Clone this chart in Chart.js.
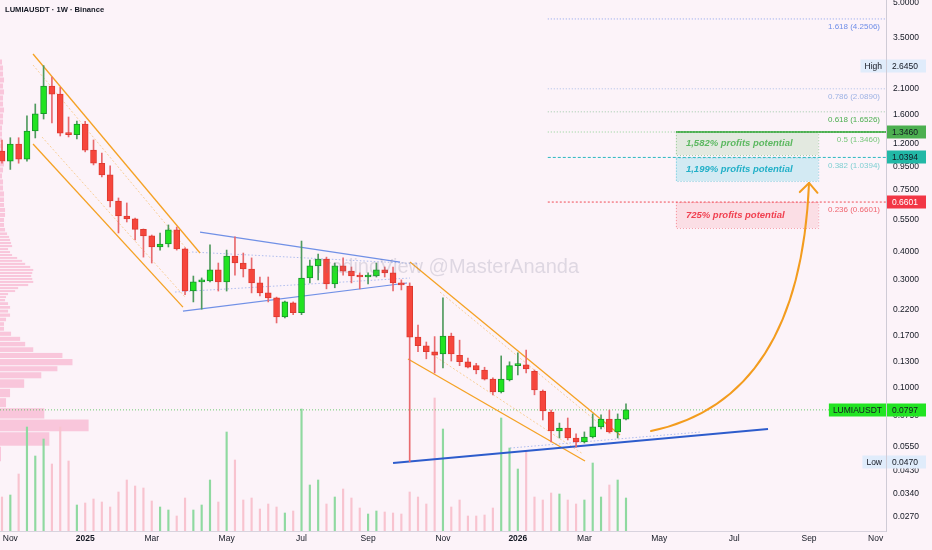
<!DOCTYPE html>
<html>
<head>
<meta charset="utf-8">
<title>LUMIAUSDT 1W</title>
<script src="https://cdn.jsdelivr.net/npm/chart.js@4.4.1/dist/chart.umd.min.js"></script>
<style>
  html, body { margin: 0; padding: 0; background: #fcf3f9; }
  #wrap { width: 932px; height: 550px; }
</style>
</head>
<body>
<div id="wrap"><canvas id="chart" width="932" height="550"></canvas></div>
<script>
// weekly candles, first bar = week of 2024-10-28
const firstWeek = "2024-10-28";
const candleOpen = [1.11,1.00,1.19,1.02,1.36,1.62,2.15,1.98,1.33,1.31, 1.46,1.12,0.98,0.87,0.667,0.573,0.556,0.50,0.468,0.418,
  0.431,0.497,0.41,0.267,0.293,0.296,0.331,0.293,0.381,0.355, 0.334,0.290,0.262,0.249,0.205,0.237,0.214,0.305,0.345,0.370,
  0.287,0.345,0.327,0.311,0.308,0.311,0.331,0.321,0.290,0.281, 0.167,0.153,0.144,0.141,0.169,0.139,0.130,0.125,0.1196,0.109,
  0.0957,0.108,0.125,0.126,0.118,0.0966,0.078,0.0643,0.0663,0.0599, 0.0575,0.0605,0.0670,0.0726,0.0637,0.0726];
const candleHigh = [1.24,1.27,1.27,1.585,1.79,2.645,2.356,2.12,1.568,1.506, 1.50,1.241,1.087,0.953,0.688,0.654,0.561,0.502,0.472,0.482,
  0.523,0.512,0.414,0.311,0.305,0.427,0.355,0.405,0.463,0.393, 0.374,0.308,0.308,0.251,0.241,0.239,0.444,0.366,0.389,0.377,
  0.355,0.374,0.341,0.321,0.321,0.355,0.341,0.341,0.299,0.29, 0.189,0.159,0.168,0.249,0.174,0.162,0.135,0.128,0.123,0.1104,
  0.138,0.130,0.1423,0.1466,0.1196,0.0976,0.0796,0.0697,0.0734,0.0624, 0.0637,0.0765,0.0757,0.0796,0.0765,0.0847];
const candleLow = [0.98,0.92,0.98,1.00,1.267,1.536,1.475,1.293,1.28,1.254, 1.10,0.963,0.853,0.628,0.482,0.539,0.449,0.377,0.355,0.405,
  0.418,0.405,0.257,0.239,0.222,0.293,0.267,0.267,0.314,0.308, 0.262,0.254,0.239,0.193,0.203,0.210,0.210,0.290,0.299,0.273,
  0.276,0.314,0.290,0.273,0.287,0.308,0.308,0.267,0.270,0.047, 0.144,0.134,0.116,0.122,0.131,0.125,0.122,0.115,0.108,0.0929,
  0.0947,0.107,0.1137,0.116,0.0929,0.0719,0.0575,0.0599,0.0587,0.0546, 0.0569,0.0599,0.0657,0.063,0.0599,0.0719];
const candleClose = [1.00,1.19,1.02,1.36,1.62,2.15,1.98,1.33,1.31,1.46, 1.12,0.98,0.87,0.667,0.573,0.556,0.50,0.468,0.418,0.431,
  0.497,0.41,0.267,0.293,0.299,0.331,0.293,0.381,0.355,0.334, 0.290,0.262,0.249,0.205,0.239,0.214,0.305,0.345,0.370,0.287,
  0.345,0.327,0.311,0.308,0.311,0.331,0.321,0.290,0.284,0.167, 0.153,0.144,0.139,0.169,0.141,0.130,0.123,0.1196,0.109,0.0957,
  0.109,0.125,0.126,0.1208,0.0976,0.0788,0.0643,0.0663,0.0599,0.0575, 0.0605,0.0670,0.0726,0.0637,0.0726,0.0797];
// volume in millions
const volume = [3.4,3.6,5.7,10.4,7.5,9.2,6.7,10.4,7.0,2.6, 2.8,3.2,2.9,2.4,3.9,5.1,4.5,4.3,3.0,2.4,
  2.1,1.5,3.3,2.1,2.6,5.1,2.9,9.9,7.1,3.1, 3.3,2.2,2.7,2.4,1.8,2.0,12.2,4.6,5.1,2.7,
  3.4,4.2,3.3,2.3,1.7,2.0,1.9,1.8,1.7,3.9, 3.4,2.7,13.3,10.2,2.4,3.1,1.5,1.5,1.6,2.3,
  11.3,8.3,6.2,8.0,3.4,3.1,3.8,3.7,3.1,2.7, 3.1,6.8,3.4,4.6,5.1,3.3];

// visible range volume profile (price level -> relative volume)
const profilePrice = [2.744,2.581,2.428,2.285,2.150,2.023,1.902,1.789,1.684,1.584,1.491,1.402,1.319,1.241,1.168,1.099,1.034,0.972,
  0.915,0.861,0.810,0.762,0.717,0.674,0.641,0.609,0.579,0.550,0.523,0.497,0.477,0.463,0.449,0.435,0.422,0.409,0.397,0.385,
  0.374,0.363,0.352,0.341,0.331,0.321,0.311,0.302,0.293,0.284,0.275,0.267,0.259,0.251,0.244,0.235,0.226,0.218,0.209,0.200,
  0.191,0.182,0.173,0.164,0.156,0.147,0.139,0.130,0.120,0.115,0.104,0.0947,0.0860,0.0772,0.0683,0.0596,0.0509];
const profileVolume = [2,3,3,4,3,4,3,3,4,3,3,2,2,2,3,3,4,4,3,2,3,3,4,4,4,5,5,4,4,5,7,9,10,11,12,8,10,12,
  17,22,25,30,33,32,31,32,33,28,18,15,8,6,5,8,10,8,10,6,4,4,11,20,25,33,62,72,57,41,24,10,6,44,88,49,1];

// x axis month labels
const monthTickDates = ["2024-11-01","2025-01-01","2025-03-01","2025-05-01","2025-07-01","2025-09-01","2025-11-01",
  "2026-01-01","2026-03-01","2026-05-01","2026-07-01","2026-09-01","2026-11-01"];
const monthNames = ["Jan","Feb","Mar","Apr","May","Jun","Jul","Aug","Sep","Oct","Nov","Dec"];
const priceTicks = [5, 3.5, 2.1, 1.6, 1.2, 0.95, 0.75, 0.55, 0.4, 0.3, 0.22, 0.17, 0.13, 0.1, 0.075, 0.055, 0.043, 0.034, 0.027];

// fibonacci levels and target boxes
const fibLevels = ["1.618", "0.786", "0.618", "0.5", "0.382", "0.236"];
const fibPrices = [4.2506, 2.089, 1.6526, 1.346, 1.0394, 0.6601];
const fibStartWeek = 65.6;
const boxTop = [1.346, 1.0394, 0.6601];
const boxBottom = [1.065, 0.8176, 0.5069];
const boxLabels = ["1,582% profits potential", "1,199% profits potential", "725% profits potential"];
const boxWeeks = [81.0, 98.1];

// price tags on the right axis
const tagPrices = [2.645, 1.346, 1.0394, 0.6601, 0.0797, 0.047];
const tagNames = ["High", "", "", "", "LUMIAUSDT", "Low"];

// drawn trend lines [week, price]
const channelA = [[3.73, 2.977], [23.8, 0.393]];
const channelB = [[3.73, 1.191], [21.75, 0.2268]];
const channelAInner = [[3.73, 2.661], [22.6, 0.393]];
const channelBInner = [[4.81, 1.279], [22.0, 0.2512]];
const triangleTop = [[23.8, 0.4866], [47.84, 0.3586]];
const triangleBottom = [[21.75, 0.2178], [48.68, 0.2897]];
const triangleMid1 = [[22.84, 0.3971], [50.2, 0.352]];
const triangleMid2 = [[20.8, 0.2643], [49.04, 0.3048]];
const supportLine = [[47.0, 0.04642], [92.07, 0.06559]];
const supportInner = [[61.06, 0.05406], [83.9, 0.0636]];
const channelC = [[49.04, 0.3586], [74.28, 0.0617]];
const channelCInner = [[52.64, 0.2643], [73.3, 0.0623]];
const channelD = [[48.8, 0.1337], [70.07, 0.04738]];
const channelDInner = [[51.8, 0.1393], [69.83, 0.0509]];
const arrowCurve = [[78.0, 0.0643], [95.9, 0.0882], [97.0, 0.8018]];

const X_MIN = -0.24, X_MAX = 106.25;
const Y_MIN = 0.02325, Y_MAX = 5.155;
const WEEK = 7 * 864e5;
const startMs = Date.parse(firstWeek + "T00:00:00Z");
const monthTickWeeks = monthTickDates.map((d) => Math.ceil((Date.parse(d + "T00:00:00Z") - startMs) / WEEK));
const monthTickText = monthTickDates.map((d) => {
  const dt = new Date(d + "T00:00:00Z");
  return dt.getUTCMonth() === 0 ? String(dt.getUTCFullYear()) : monthNames[dt.getUTCMonth()];
});

const UP = "#21e321", UP_EDGE = "#17972a", DOWN = "#f6463c", DOWN_EDGE = "#de3a30";
const UP_WICK = "#4f9a5e", DOWN_WICK = "#e86a6e";
const FONT = "'Liberation Sans', Arial, sans-serif";
const INK = "#131722";

const weeks = candleOpen.map((_, i) => i);
const isUp = weeks.map((i) => candleClose[i] >= candleOpen[i]);

function seg(points, color, width, dash) {
  return {
    type: "line",
    data: points.map(([x, y]) => ({ x, y })),
    borderColor: color,
    borderWidth: width,
    borderDash: dash || [],
    pointRadius: 0,
    fill: false,
    tension: 0,
    order: 3,
  };
}

const ORANGE = "#f5a224", ORANGE_SOFT = "rgba(245,162,36,0.45)";
const BLUE = "#7090e6", BLUE_SOFT = "rgba(112,144,230,0.55)";

const lineSets = [
  seg(channelA, ORANGE, 1.3), seg(channelB, ORANGE, 1.3),
  seg(channelAInner, ORANGE_SOFT, 1, [2, 2]), seg(channelBInner, ORANGE_SOFT, 1, [2, 2]),
  seg(triangleTop, BLUE, 1.2), seg(triangleBottom, BLUE, 1.2),
  seg(triangleMid1, BLUE_SOFT, 1, [1.5, 2]), seg(triangleMid2, BLUE_SOFT, 1, [1.5, 2]),
  seg(supportLine, "#2d5ccc", 2), seg(supportInner, BLUE_SOFT, 1, [1.5, 2]),
  seg(channelC, ORANGE, 1.3), seg(channelD, ORANGE, 1.3),
  seg(channelCInner, ORANGE_SOFT, 1, [2, 2]), seg(channelDInner, ORANGE_SOFT, 1, [2, 2]),
  seg([[X_MIN, candleClose[candleClose.length - 1]], [X_MAX, candleClose[candleClose.length - 1]]], "rgba(60,190,70,0.75)", 1, [1, 2]),
];

const fibStyles = [
  { line: "#8aa2ee", text: "#6f8ee8", dash: [1, 2] },
  { line: "#a9bde8", text: "#9db2e4", dash: [1, 2] },
  { line: "#9cc9a8", text: "#4caf50", dash: [1, 2] },
  { line: "#8fd095", text: "#77c77b", dash: [1, 2] },
  { line: "#2cb8c0", text: "#7fcfd2", dash: [3, 2] },
  { line: "#f04a55", text: "#f06570", dash: [2, 2] },
];
fibPrices.forEach((p, i) => lineSets.push(seg([[fibStartWeek, p], [X_MAX, p]], fibStyles[i].line, 1, fibStyles[i].dash)));
lineSets.push(seg([[boxWeeks[0], fibPrices[3]], [X_MAX, fibPrices[3]]], "#4caf50", 2));

const boxStyles = [
  { fill: "rgba(76,175,80,0.14)", edge: "rgba(76,175,80,0.5)", text: "#5cb860" },
  { fill: "rgba(0,188,212,0.16)", edge: "rgba(0,170,200,0.5)", text: "#22b0c8" },
  { fill: "rgba(242,54,69,0.11)", edge: "rgba(242,54,69,0.45)", text: "#f04050" },
];
const tagStyles = [
  { bg: "#e0ecfb", fg: INK }, { bg: "#4caf50", fg: INK }, { bg: "#22b8a6", fg: INK },
  { bg: "#f23645", fg: "#ffffff" }, { bg: "#22e422", fg: INK }, { bg: "#e0ecfb", fg: INK },
];

const decor = {
  id: "decor",
  beforeDraw(chart) {
    const { ctx, width, height } = chart;
    ctx.save();
    ctx.fillStyle = "#fcf3f9";
    ctx.fillRect(0, 0, width, height);
    ctx.restore();
  },
  beforeDatasetsDraw(chart) {
    const { ctx, chartArea, scales } = chart;
    const y = scales.y, x = scales.x;
    ctx.save();
    // volume profile
    const ys = profilePrice.map((p) => y.getPixelForValue(p));
    const maxV = Math.max(...profileVolume);
    const wScale = (chartArea.width * 0.1) / maxV;
    ctx.fillStyle = "rgba(246,168,198,0.6)";
    ys.forEach((yc, i) => {
      const up = i > 0 ? (yc - ys[i - 1]) / 2 : (ys[1] - yc) / 2;
      const dn = i < ys.length - 1 ? (ys[i + 1] - yc) / 2 : up;
      const top = yc - up + 0.5, h = up + dn - 1;
      ctx.fillRect(chartArea.left, top, profileVolume[i] * wScale, Math.max(h, 0.8));
    });
    // target boxes
    const bx0 = x.getPixelForValue(boxWeeks[0]), bx1 = x.getPixelForValue(boxWeeks[1]);
    boxTop.forEach((t, i) => {
      const yt = y.getPixelForValue(t), yb = y.getPixelForValue(boxBottom[i]);
      ctx.fillStyle = boxStyles[i].fill;
      ctx.fillRect(bx0, yt, bx1 - bx0, yb - yt);
      ctx.strokeStyle = boxStyles[i].edge;
      ctx.setLineDash([1, 2]);
      ctx.lineWidth = 1;
      ctx.strokeRect(bx0 + 0.5, yt + 0.5, bx1 - bx0, yb - yt);
    });
    ctx.restore();
  },
  afterDatasetsDraw(chart) {
    const { ctx, chartArea, scales } = chart;
    const y = scales.y, x = scales.x;
    ctx.save();
    // watermark
    ctx.font = "20px " + FONT;
    ctx.fillStyle = "rgba(120,120,145,0.22)";
    ctx.textAlign = "center";
    ctx.textBaseline = "middle";
    ctx.fillText("TradingView @MasterAnanda", 446, 267);
    // curved arrow
    const pts = arrowCurve.map(([i, p]) => [x.getPixelForValue(i), y.getPixelForValue(p)]);
    ctx.strokeStyle = "#f39c1e";
    ctx.lineWidth = 2;
    ctx.lineCap = "round";
    ctx.beginPath();
    ctx.moveTo(pts[0][0], pts[0][1]);
    ctx.quadraticCurveTo(pts[1][0], pts[1][1], pts[2][0], pts[2][1]);
    ctx.stroke();
    const ang = Math.atan2(pts[2][1] - pts[1][1], pts[2][0] - pts[1][0]);
    ctx.beginPath();
    [-1, 1].forEach((s) => {
      const a = ang + Math.PI + s * 0.75;
      ctx.moveTo(pts[2][0], pts[2][1]);
      ctx.lineTo(pts[2][0] + 13 * Math.cos(a), pts[2][1] + 13 * Math.sin(a));
    });
    ctx.stroke();
    // fib labels
    ctx.font = "8px " + FONT;
    ctx.textAlign = "right";
    fibPrices.forEach((p, i) => {
      ctx.fillStyle = fibStyles[i].text;
      ctx.fillText(fibLevels[i] + " (" + p.toFixed(4) + ")", chartArea.right - 6, y.getPixelForValue(p) + 8);
    });
    // box labels
    ctx.font = "italic 600 9.5px " + FONT;
    ctx.textAlign = "left";
    const bx0 = x.getPixelForValue(boxWeeks[0]);
    boxTop.forEach((t, i) => {
      const ym = (y.getPixelForValue(t) + y.getPixelForValue(boxBottom[i])) / 2;
      ctx.fillStyle = boxStyles[i].text;
      ctx.fillText(boxLabels[i], bx0 + 10, ym);
    });
    ctx.restore();
  },
  afterDraw(chart) {
    const { ctx, chartArea, scales } = chart;
    const y = scales.y;
    ctx.save();
    ctx.textBaseline = "middle";
    ctx.font = "8.5px " + FONT;
    tagPrices.forEach((p, i) => {
      const yp = Math.round(y.getPixelForValue(p));
      const st = tagStyles[i];
      ctx.fillStyle = st.bg;
      ctx.fillRect(chartArea.right + 1, yp - 6.5, 39, 13);
      ctx.fillStyle = st.fg;
      ctx.textAlign = "left";
      ctx.fillText(p.toFixed(4), chartArea.right + 6, yp + 0.5);
      if (tagNames[i]) {
        const w = ctx.measureText(tagNames[i]).width + 8;
        ctx.fillStyle = st.bg;
        ctx.fillRect(chartArea.right - w, yp - 6.5, w, 13);
        ctx.fillStyle = st.fg;
        ctx.fillText(tagNames[i], chartArea.right - w + 4, yp + 0.5);
      }
    });
    // title
    ctx.font = "600 7.6px " + FONT;
    ctx.fillStyle = INK;
    ctx.textAlign = "left";
    ctx.fillText("LUMIAUSDT \u00b7 1W \u00b7 Binance", 5, 10);
    ctx.restore();
  },
};

new Chart(document.getElementById("chart"), {
  type: "bar",
  data: {
    datasets: [
      {
        label: "body",
        data: weeks.map((i) => ({ x: i, y: [candleOpen[i], candleClose[i]] })),
        backgroundColor: weeks.map((i) => (isUp[i] ? UP : DOWN)),
        borderColor: weeks.map((i) => (isUp[i] ? UP_EDGE : DOWN_EDGE)),
        borderWidth: 1,
        borderSkipped: false,
        barThickness: 6,
        minBarLength: 2,
        grouped: false,
        order: 1,
      },
      {
        label: "wick",
        data: weeks.map((i) => ({ x: i, y: [candleLow[i], candleHigh[i]] })),
        backgroundColor: weeks.map((i) => (isUp[i] ? UP_WICK : DOWN_WICK)),
        barThickness: 1,
        grouped: false,
        order: 2,
      },
      {
        label: "volume",
        yAxisID: "v",
        data: weeks.map((i) => ({ x: i, y: volume[i] })),
        backgroundColor: weeks.map((i) => (isUp[i] ? "#8fd9a0" : "#f8c3cf")),
        barThickness: 1.5,
        grouped: false,
        order: 10,
      },
      ...lineSets,
    ],
  },
  options: {
    responsive: false,
    animation: false,
    events: [],
    layout: { padding: 0 },
    plugins: { legend: { display: false }, tooltip: { enabled: false } },
    scales: {
      x: {
        type: "linear",
        min: X_MIN,
        max: X_MAX,
        offset: false,
        grid: { display: false, drawTicks: false },
        border: { color: "#d8d3de" },
        ticks: {
          autoSkip: false,
          maxRotation: 0,
          padding: 3,
          color: INK,
          font: (c) => ({ family: FONT, size: 8.5, weight: c.tick && /^\d{4}$/.test(monthTickText[monthTickWeeks.indexOf(c.tick.value)] || "") ? "bold" : "normal" }),
          callback: (v) => monthTickText[monthTickWeeks.indexOf(v)] || "",
        },
        afterBuildTicks: (axis) => { axis.ticks = monthTickWeeks.map((v) => ({ value: v })); },
        afterFit: (axis) => { axis.height = 19; axis.paddingLeft = 0; axis.paddingRight = 0; },
      },
      y: {
        type: "logarithmic",
        position: "right",
        min: Y_MIN,
        max: Y_MAX,
        grid: { display: false, drawTicks: false },
        border: { color: "#cfcbd6" },
        ticks: {
          padding: 7,
          color: INK,
          font: { family: FONT, size: 8.5 },
          callback: (v) => Number(v).toFixed(4),
        },
        afterBuildTicks: (axis) => { axis.ticks = priceTicks.map((v) => ({ value: v })); },
        afterFit: (axis) => { axis.width = 46; axis.paddingTop = 0; axis.paddingBottom = 0; },
      },
      v: { type: "linear", display: false, min: 0, max: 53.1 },
    },
  },
  plugins: [decor],
});
</script>
</body>
</html>
